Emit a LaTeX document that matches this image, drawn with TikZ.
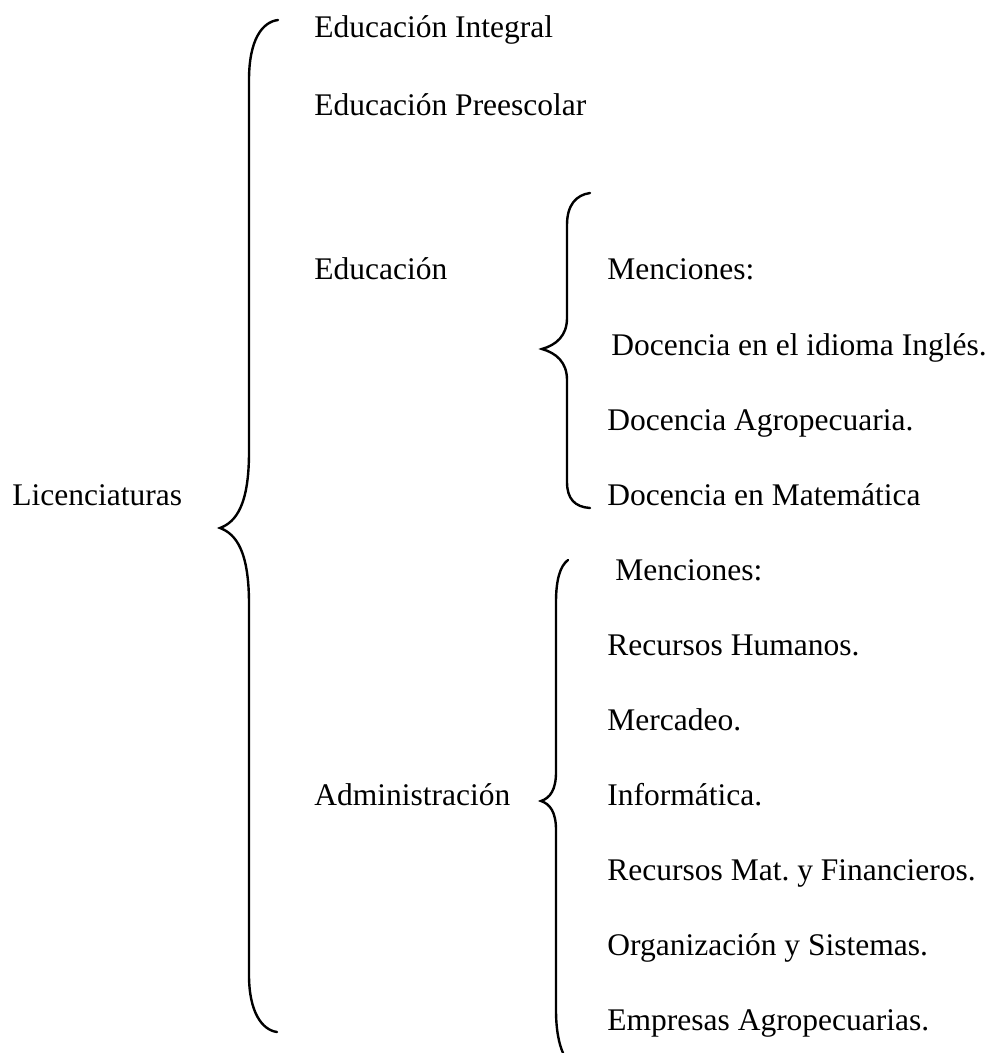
\documentclass[tikz,border=0pt]{standalone}
\usepackage{fontspec}
\setmainfont{Liberation Serif}
\usetikzlibrary{positioning}

\begin{document}
\begin{tikzpicture}[x = 0.5pt, y = -0.5pt,
        txt/.style = {anchor = base west, inner sep = 0pt, font = \fontsize{15.75}{19}\selectfont},
        llave/.style = {line width = 1.2pt, line cap = round}]
        \useasboundingbox (0, 0) rectangle (992, 1053);

        % llave grande
        \draw [llave]
        (278, 20)
        .. controls (262, 22) and (249, 40) .. (249, 80)
        -- (249, 452)
        .. controls (249, 505) and (236, 522) .. (220, 528)
        .. controls (236, 534) and (249, 551) .. (249, 604)
        -- (249, 975)
        .. controls (249, 1012) and (262, 1030) .. (277, 1032);

        % llave educacion
        \draw [llave]
        (590, 193)
        .. controls (576, 195) and (567, 205) .. (567, 225)
        -- (567, 318)
        .. controls (567, 336) and (556, 345) .. (542, 349)
        .. controls (556, 353) and (567, 362) .. (567, 380)
        -- (567, 482)
        .. controls (567, 499) and (575, 507) .. (590, 508);

        % llave administracion
        \draw [llave]
        (568, 560)
        .. controls (560, 566) and (556, 580) .. (556, 602)
        -- (556, 772)
        .. controls (556, 790) and (550, 798) .. (541, 801)
        .. controls (550, 804) and (556, 812) .. (556, 830)
        -- (556, 1010)
        .. controls (556, 1030) and (559, 1044) .. (563, 1053);

        \node [txt] (lic) at (12, 505) {Licenciaturas};

        \node [txt] (integral) at (314, 38) {Educación Integral};
        \node [txt] (preescolar) at (314, 116) {Educación Preescolar};
        \node [txt] (educacion) at (314, 280) {Educación};
        \node [txt] (admin) at (314, 805) {Administración};

        \node [txt] (mencEd) at (607, 280) {Menciones:};
        \node [txt] (ingles) at (611, 355) {Docencia en el idioma Inglés.};
        \node [txt] (agro) at (607, 430) {Docencia Agropecuaria.};
        \node [txt] (mate) at (607, 505) {Docencia en Matemática};

        \node [txt] (mencAd) at (615, 580) {Menciones:};
        \node [txt] (rrhh) at (607, 655) {Recursos Humanos.};
        \node [txt] (mercadeo) at (607, 730) {Mercadeo.};
        \node [txt] (informatica) at (607, 805) {Informática.};
        \node [txt] (recmat) at (607, 880) {Recursos Mat.\ y Financieros.};
        \node [txt] (orgsis) at (607, 955) {Organización y Sistemas.};
        \node [txt] (empresas) at (607, 1030) {Empresas Agropecuarias.};
    \end{tikzpicture}
\end{document}
